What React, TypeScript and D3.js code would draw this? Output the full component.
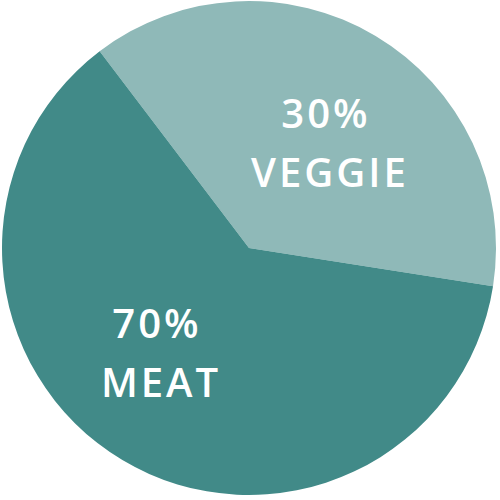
import React from "react";
import * as d3 from "d3";

const categories = ["VEGGIE", "MEAT"];
const shares = [37.8, 62.2];
const percentLabels = ["30%", "70%"];
const colors = ["#8fb9b8", "#418a88"];

const W = 500;
const H = 500;
const CX = 249;
const CY = 248;
const R = 247;
const START_DEG = -37.2;
// label baseline anchors relative to pie centre (layout only)
const labelOffsets: [number, number][] = [
  [81, -120],
  [-88, 90],
];

export default function App() {
  const pie = d3
    .pie<number>()
    .sort(null)
    .value((d) => d)
    .startAngle((START_DEG * Math.PI) / 180)
    .endAngle((START_DEG * Math.PI) / 180 + 2 * Math.PI);
  const arcs = pie(shares);
  const arc = d3.arc<d3.PieArcDatum<number>>().innerRadius(0).outerRadius(R);

  return (
    <svg
      width={W}
      height={H}
      style={{ position: "fixed", left: 0, top: 0, display: "block" }}
    >
      <rect width={W} height={H} fill="#ffffff" />
      <g transform={`translate(${CX},${CY})`}>
        {arcs.map((a, i) => (
          <path key={categories[i]} d={arc(a) || ""} fill={colors[i]} />
        ))}
        {arcs.map((a, i) => {
          const [ox, oy] = labelOffsets[i];
          return (
            <text
              key={"t" + i}
              textAnchor="middle"
              fill="#ffffff"
              fontFamily="'Open Sans', sans-serif"
              fontWeight={600}
              fontSize={40}
            >
              <tspan x={ox - 4} y={oy} letterSpacing={3}>{percentLabels[i]}</tspan>
              <tspan x={ox} y={oy + 59} letterSpacing={3}>{categories[i]}</tspan>
            </text>
          );
        })}
      </g>
    </svg>
  );
}
